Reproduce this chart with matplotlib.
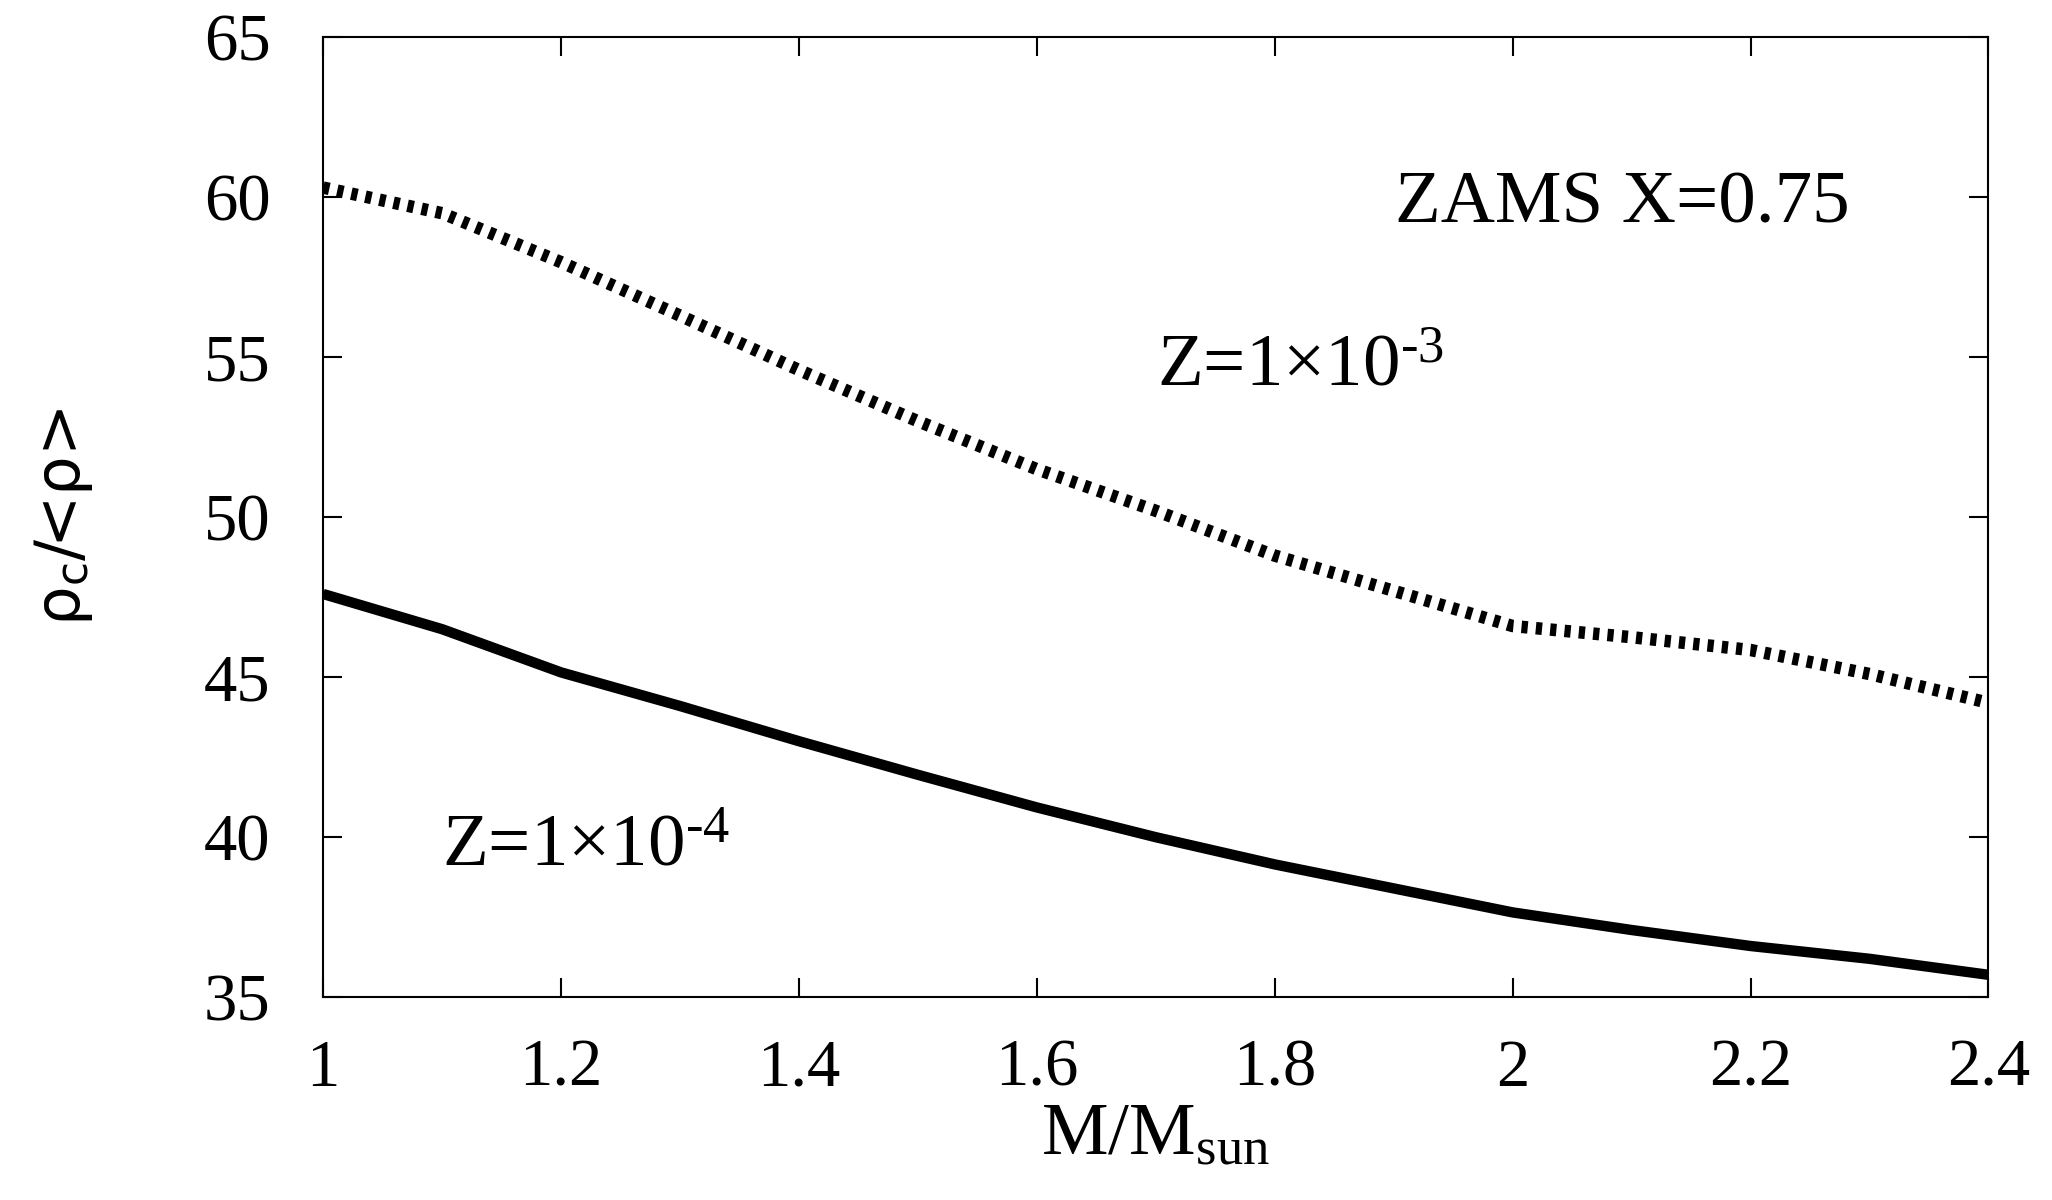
import matplotlib
matplotlib.use("Agg")
import matplotlib.pyplot as plt

plt.rcParams['font.family'] = ['Liberation Serif', 'DejaVu Serif']
plt.rcParams['mathtext.fontset'] = 'custom'
plt.rcParams['mathtext.rm'] = 'Liberation Serif'
plt.rcParams['mathtext.it'] = 'Liberation Serif:italic'
plt.rcParams['mathtext.sf'] = 'DejaVu Sans'

# mass in solar units
mass = [1.0, 1.1, 1.2, 1.3, 1.4, 1.5, 1.6, 1.7, 1.8, 1.9, 2.0, 2.1, 2.2, 2.3, 2.4]
# central / mean density, Z = 1e-3 (dotted)
ratio_z3 = [60.3, 59.5, 57.97, 56.3, 54.6, 53.0, 51.5, 50.2, 48.8, 47.7, 46.6, 46.25, 45.85, 45.1, 44.2]
# central / mean density, Z = 1e-4 (solid)
ratio_z4 = [47.6, 46.5, 45.15, 44.1, 43.0, 41.95, 40.93, 40.0, 39.15, 38.4, 37.65, 37.1, 36.6, 36.2, 35.7]

xticks = [1, 1.2, 1.4, 1.6, 1.8, 2, 2.2, 2.4]
xtick_labels = ['1', '1.2', '1.4', '1.6', '1.8', '2', '2.2', '2.4']
yticks = [35, 40, 45, 50, 55, 60, 65]

fig = plt.figure(figsize=(20.52, 12), dpi=100)
ax = fig.add_axes([0.1575, 0.169, 0.8115, 0.8])

ax.plot(mass, ratio_z3, color='black', lw=9, dashes=(0.5, 0.65),
        dash_capstyle='butt', solid_joinstyle='round')
ax.plot(mass, ratio_z4, color='black', lw=7.5, solid_capstyle='butt')

ax.set_xlim(1, 2.4)
ax.set_ylim(35, 65)
ax.set_xticks(xticks)
ax.set_xticklabels(xtick_labels)
ax.set_yticks(yticks)

ax.tick_params(direction='in', length=14, width=1.5, labelsize=48,
               top=True, right=True)
ax.tick_params(axis='y', pad=38)
ax.tick_params(axis='x', pad=30)
for s in ax.spines.values():
    s.set_linewidth(1.5)

ax.set_xlabel('M/M$_{\\mathrm{sun}}$', fontsize=54, labelpad=2)
ax.set_ylabel('ρ$_{\\mathsf{c}}$/<ρ>', fontsize=45, family=['DejaVu Sans'],
              labelpad=78)

ax.text(1.901, 59.2, 'ZAMS X=0.75', fontsize=54, ha='left', va='baseline')
ax.text(1.701, 54.1, 'Z=1×10$^{\\text{-3}}$', fontsize=54, ha='left', va='baseline')
ax.text(1.100, 39.1, 'Z=1×10$^{\\text{-4}}$', fontsize=54, ha='left', va='baseline')

fig.savefig('out.png', dpi=100)
